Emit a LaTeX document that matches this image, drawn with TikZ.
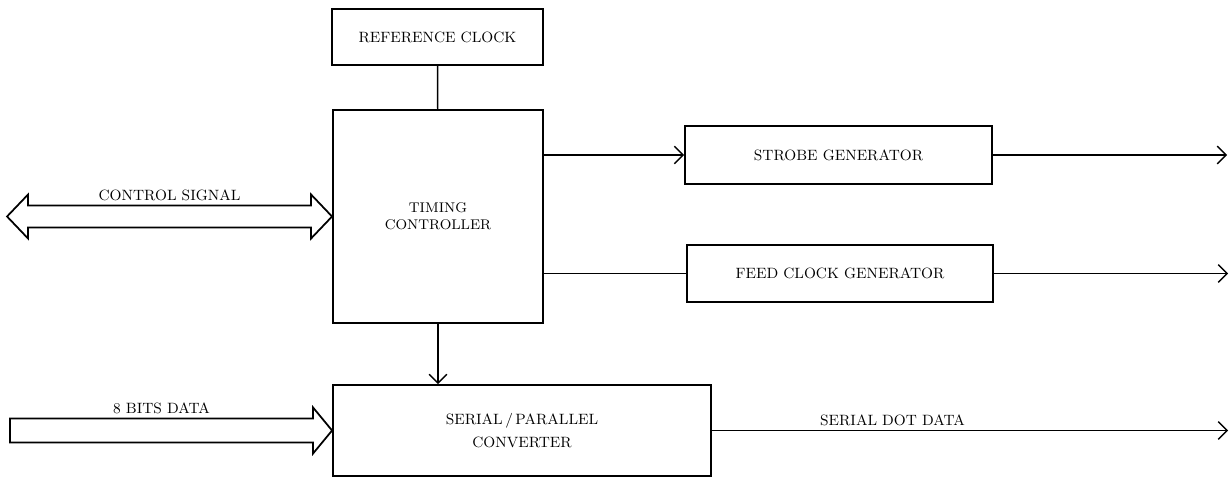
\documentclass[tikz,border=0pt]{standalone}
\usepackage{tikz}
\usetikzlibrary{arrows.meta}

\begin{document}
\begin{tikzpicture}[x=0.02cm, y=-0.02cm, >={Straight Barb[length=5pt,width=10pt]},
  box/.style={draw, line width=1.1pt, inner sep=0pt, align=center,
              font=\fontsize{8.5}{13}\selectfont},
  wire/.style={line width=0.8pt},
  fat/.style={draw, line width=1pt, line join=miter},
  lbl/.style={font=\fontsize{8.5}{11}\selectfont, inner sep=2pt}]
  \useasboundingbox (0,0) rectangle (1232,477);
  \node (ref) [box, minimum width=4.22cm, minimum height=1.12cm] at (437.5,37) {REFERENCE CLOCK};
  \node (tim) [box, minimum width=4.2cm, minimum height=4.26cm, font=\fontsize{8}{9.5}\selectfont] at (438,216.5) {TIMING\\CONTROLLER};
  \node (stb) [box, minimum width=6.14cm, minimum height=1.16cm] at (838.5,155) {STROBE GENERATOR};
  \node (fcg) [box, minimum width=6.12cm, minimum height=1.14cm] at (840,273.5) {FEED CLOCK GENERATOR};
  \node (spc) [box, minimum width=7.56cm, minimum height=1.82cm] at (522,430.5) {SERIAL\,/\,PARALLEL\\CONVERTER};
  \coordinate (stbout) at (1227,155);
  \coordinate (fcgout) at (1228,273.5);
  \coordinate (sdout) at (1228,430.5);

  % timing paths
  \draw[wire] (ref) -- (tim);
  \draw[wire,->] (tim.east |- stb.west) -- (stb.west);
  \draw[wire] (tim.east |- fcg.west) -- (fcg.west);
  \draw[wire,->] (tim.south) -- (spc.north -| tim.south);

  % outputs
  \draw[wire,->] (stb.east) -- (stbout);
  \draw[wire,->] (fcg.east) -- (fcgout);
  \draw[wire,->] (spc.east) -- node[lbl, above, pos=0.35] {SERIAL DOT DATA} (sdout);

  % bus arrows
  \draw[fat] (tim.west) -- ++(-21,22) -- ++(0,-11) -- ++(-283,0)
    -- ++(0,11) -- ++(-21,-22) -- ++(21,-22) -- ++(0,11)
    -- node[lbl, above] {CONTROL SIGNAL} ++(283,0)
    -- ++(0,-11) -- cycle;
  \draw[fat] (spc.west) -- ++(-19,-23) -- ++(0,11)
    -- node[lbl, above] {8 BITS DATA} ++(-303,0)
    -- ++(0,24) -- ++(303,0) -- ++(0,11) -- cycle;
\end{tikzpicture}
\end{document}
